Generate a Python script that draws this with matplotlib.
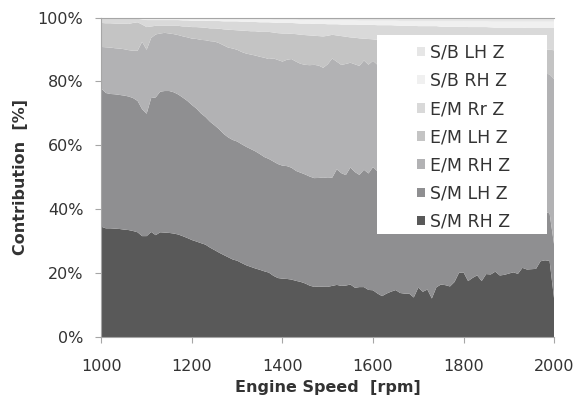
import numpy as np
import matplotlib.pyplot as plt
from matplotlib.patches import Patch, Rectangle

# Engine speed [rpm], one sample every 10 rpm
rpm = list(range(1000, 2001, 10))

# Contribution of each path [%] (bottom to top of the stack)
sm_rh = [34.5, 34.0, 34.0, 33.9, 33.8, 33.6, 33.5, 33.2, 32.8, 31.6,
         31.6, 32.9, 31.9, 32.8, 32.7, 32.6, 32.4, 32.1, 31.6, 31.0,
         30.4, 29.9, 29.4, 28.9, 28.0, 27.2, 26.4, 25.7, 25.0, 24.3,
         23.9, 23.2, 22.5, 22.0, 21.5, 21.1, 20.6, 20.2, 19.2, 18.5,
         18.3, 18.2, 18.0, 17.6, 17.3, 16.8, 16.1, 15.7, 15.8, 15.7,
         15.7, 16.0, 16.3, 16.0, 16.1, 16.4, 15.4, 15.6, 15.6, 14.7,
         14.6, 13.6, 12.8, 13.6, 14.2, 14.7, 13.8, 13.6, 13.6, 12.4,
         15.5, 14.2, 14.9, 12.1, 15.6, 16.5, 16.3, 15.9, 17.3, 20.2,
         20.3, 17.6, 18.6, 19.4, 17.6, 19.8, 19.7, 20.6, 19.4, 19.6,
         20.0, 20.4, 19.9, 21.8, 21.3, 21.4, 21.5, 23.9, 24.2, 24.0,
         12.0]
sm_lh = [43.2, 42.3, 42.0, 42.0, 41.9, 41.9, 41.8, 41.6, 41.1, 39.7,
         38.3, 41.9, 43.1, 44.0, 44.3, 44.4, 44.2, 43.8, 43.4, 42.9,
         42.3, 41.6, 40.6, 39.9, 39.4, 39.0, 38.6, 37.9, 37.5, 37.4,
         37.3, 37.2, 37.1, 36.9, 36.7, 36.3, 35.8, 35.6, 35.8, 35.7,
         35.4, 35.3, 35.0, 34.4, 34.2, 34.1, 34.1, 34.0, 33.9, 34.1,
         34.0, 33.8, 36.1, 35.2, 34.5, 36.5, 36.1, 35.0, 36.6, 36.3,
         38.4, 38.1, 39.7, 37.4, 37.6, 35.9, 37.1, 36.2, 36.9, 36.2,
         33.9, 34.0, 33.8, 35.0, 32.0, 30.3, 29.8, 30.6, 28.0, 25.6,
         24.6, 26.6, 26.0, 24.1, 26.3, 23.0, 22.6, 22.1, 22.2, 22.3,
         21.0, 20.2, 21.0, 18.3, 18.5, 18.8, 18.0, 15.3, 15.2, 15.0,
         17.0]
em_rh = [13.0, 14.3, 14.5, 14.4, 14.5, 14.5, 14.5, 14.8, 15.7, 21.1,
         20.0, 18.8, 19.7, 18.2, 18.2, 18.0, 18.2, 18.6, 19.2, 19.9,
         20.8, 21.8, 23.0, 24.0, 25.2, 26.2, 26.9, 27.7, 28.1, 28.6,
         28.7, 28.9, 29.2, 29.6, 30.0, 30.5, 31.1, 31.3, 32.3, 32.6,
         32.6, 33.3, 34.0, 34.2, 34.1, 34.3, 34.8, 35.4, 35.1, 34.2,
         35.5, 37.2, 33.6, 33.8, 34.7, 32.7, 33.6, 34.0, 34.1, 33.9,
         33.1, 33.3, 33.1, 33.8, 33.5, 33.9, 34.1, 34.4, 34.3, 35.4,
         35.2, 35.7, 35.7, 36.5, 36.6, 37.0, 38.0, 36.9, 38.6, 37.4,
         38.8, 38.9, 38.9, 39.4, 39.5, 40.0, 40.9, 39.9, 41.4, 40.6,
         41.9, 41.8, 41.9, 42.2, 42.9, 42.3, 43.4, 43.4, 43.6, 43.8,
         52.0]
em_lh = [7.5, 7.5, 7.6, 7.7, 7.8, 8.0, 8.2, 8.7, 8.9, 5.4,
         7.1, 3.6, 2.7, 2.4, 2.2, 2.4, 2.6, 2.9, 3.1, 3.4,
         3.6, 3.7, 3.9, 3.9, 4.0, 4.1, 4.5, 5.0, 5.6, 5.8,
         6.1, 6.7, 7.1, 7.3, 7.6, 7.8, 8.1, 8.5, 8.1, 8.4,
         8.8, 8.2, 7.9, 8.6, 9.1, 9.3, 9.3, 9.1, 9.2, 9.8,
         8.9, 7.4, 8.2, 9.0, 8.5, 7.9, 8.3, 8.6, 6.8, 8.0,
         6.7, 7.8, 7.1, 7.8, 7.3, 8.0, 7.4, 8.2, 7.5, 8.2,
         7.6, 8.2, 7.6, 8.4, 7.7, 8.0, 7.7, 8.3, 7.7, 8.4,
         7.8, 8.4, 7.9, 8.5, 7.9, 8.5, 8.0, 8.6, 8.1, 8.6,
         8.1, 8.6, 8.1, 8.6, 8.1, 8.3, 7.8, 8.1, 7.6, 7.8,
         9.0]
em_rr = [1.4, 1.5, 1.5, 1.6, 1.6, 1.6, 1.6, 1.3, 1.1, 1.6,
         2.2, 2.0, 1.8, 1.8, 1.8, 1.8, 1.8, 1.8, 1.9, 1.9,
         2.0, 2.0, 2.1, 2.2, 2.3, 2.3, 2.4, 2.5, 2.6, 2.7,
         2.8, 2.8, 2.9, 2.9, 2.9, 3.0, 3.0, 3.0, 3.1, 3.2,
         3.3, 3.3, 3.4, 3.4, 3.5, 3.6, 3.7, 3.7, 3.8, 3.9,
         3.6, 3.3, 3.5, 3.6, 3.8, 4.0, 4.1, 4.2, 4.3, 4.4,
         4.5, 4.6, 4.7, 4.8, 4.8, 4.9, 5.0, 5.0, 5.1, 5.2,
         5.2, 5.3, 5.4, 5.4, 5.5, 5.6, 5.6, 5.7, 5.8, 5.8,
         5.9, 5.9, 6.0, 6.0, 6.1, 6.1, 6.2, 6.2, 6.3, 6.3,
         6.4, 6.4, 6.5, 6.5, 6.6, 6.6, 6.7, 6.7, 6.8, 6.8,
         7.0]
sb_rh = [0.2, 0.2, 0.2, 0.2, 0.2, 0.2, 0.3, 0.3, 0.3, 0.4,
         0.5, 0.5, 0.5, 0.5, 0.5, 0.5, 0.5, 0.5, 0.6, 0.6,
         0.6, 0.6, 0.6, 0.6, 0.7, 0.7, 0.7, 0.7, 0.7, 0.7,
         0.7, 0.8, 0.8, 0.8, 0.8, 0.9, 0.9, 0.9, 0.9, 1.0,
         1.0, 1.0, 1.0, 1.1, 1.1, 1.1, 1.1, 1.2, 1.2, 1.2,
         1.2, 1.2, 1.2, 1.3, 1.3, 1.3, 1.3, 1.3, 1.3, 1.3,
         1.3, 1.4, 1.4, 1.4, 1.4, 1.5, 1.5, 1.5, 1.5, 1.5,
         1.6, 1.6, 1.6, 1.6, 1.6, 1.7, 1.7, 1.7, 1.7, 1.7,
         1.7, 1.8, 1.8, 1.8, 1.8, 1.8, 1.8, 1.9, 1.9, 1.9,
         1.9, 1.9, 1.9, 1.9, 2.0, 2.0, 2.0, 2.0, 2.0, 2.0,
         2.0]
sb_lh = [0.1, 0.1, 0.1, 0.1, 0.1, 0.1, 0.1, 0.1, 0.1, 0.2,
         0.3, 0.3, 0.3, 0.3, 0.3, 0.3, 0.3, 0.3, 0.3, 0.3,
         0.4, 0.4, 0.4, 0.4, 0.4, 0.4, 0.4, 0.5, 0.5, 0.5,
         0.5, 0.5, 0.5, 0.6, 0.6, 0.6, 0.6, 0.6, 0.7, 0.7,
         0.7, 0.7, 0.7, 0.7, 0.8, 0.8, 0.8, 0.8, 0.8, 0.8,
         0.9, 0.9, 0.9, 0.9, 0.9, 0.9, 0.9, 1.0, 1.0, 1.0,
         1.0, 1.0, 1.0, 1.0, 1.0, 1.0, 1.1, 1.1, 1.1, 1.1,
         1.1, 1.1, 1.1, 1.1, 1.1, 1.2, 1.2, 1.2, 1.2, 1.2,
         1.2, 1.2, 1.2, 1.2, 1.2, 1.2, 1.3, 1.3, 1.3, 1.3,
         1.3, 1.3, 1.3, 1.3, 1.3, 1.3, 1.3, 1.3, 1.3, 1.3,
         1.3]

labels = ["S/M RH Z", "S/M LH Z", "E/M RH Z", "E/M LH Z",
          "E/M Rr Z", "S/B RH Z", "S/B LH Z"]
colors = ["#595959", "#8f8f91", "#b2b2b4", "#c4c4c4",
          "#d9d9d9", "#f0f0f0", "#e6e6e6"]

TEXT = "#333333"
AXIS = "#a6a6a6"

# 100% stacked: normalise each speed to the total
data = np.array([sm_rh, sm_lh, em_rh, em_lh, em_rr, sb_rh, sb_lh])
data = data / data.sum(axis=0) * 100

fig = plt.figure(figsize=(5.76, 3.98), dpi=100)
ax = fig.add_axes([0.176, 0.153, 0.786, 0.803])

ax.stackplot(rpm, data, colors=colors, linewidth=0)

ax.set_xlim(1000, 2000)
ax.set_ylim(0, 100)
ax.set_xticks(range(1000, 2001, 200))
ax.set_yticks(range(0, 101, 20))
ax.set_yticklabels([str(v) + "%" for v in range(0, 101, 20)])

for s in ["left", "bottom", "top"]:
    ax.spines[s].set_color(AXIS)
    ax.spines[s].set_linewidth(0.8)
ax.spines["right"].set_visible(False)
ax.tick_params(colors=AXIS, labelcolor=TEXT, labelsize=11.5, length=4, width=0.8)
ax.tick_params(axis="x", pad=12)
ax.tick_params(axis="y", pad=9)

ax.set_xlabel("Engine Speed  [rpm]", fontsize=11.5, fontweight="bold", color=TEXT, labelpad=4)
ax.set_ylabel("Contribution  [%]", fontsize=11.5, fontweight="bold", color=TEXT, labelpad=7)

# white legend panel
ax.add_patch(Rectangle((0.609, 0.322), 0.375, 0.622, transform=ax.transAxes,
                       facecolor="white", edgecolor="none", zorder=3))

# Legend lists top of stack first, like the spreadsheet does
handles = [Patch(facecolor=c, edgecolor="none") for c in colors][::-1]
leg = ax.legend(handles, labels[::-1], loc="upper left",
                bbox_to_anchor=(0.697, 0.918), frameon=False,
                fontsize=12.5, labelspacing=0.585, handlelength=0.45,
                handleheight=0.45, handletextpad=0.3, borderpad=0,
                borderaxespad=0)
leg.set_zorder(4)
for t in leg.get_texts():
    t.set_color(TEXT)

fig.savefig("out.png", dpi=100)
